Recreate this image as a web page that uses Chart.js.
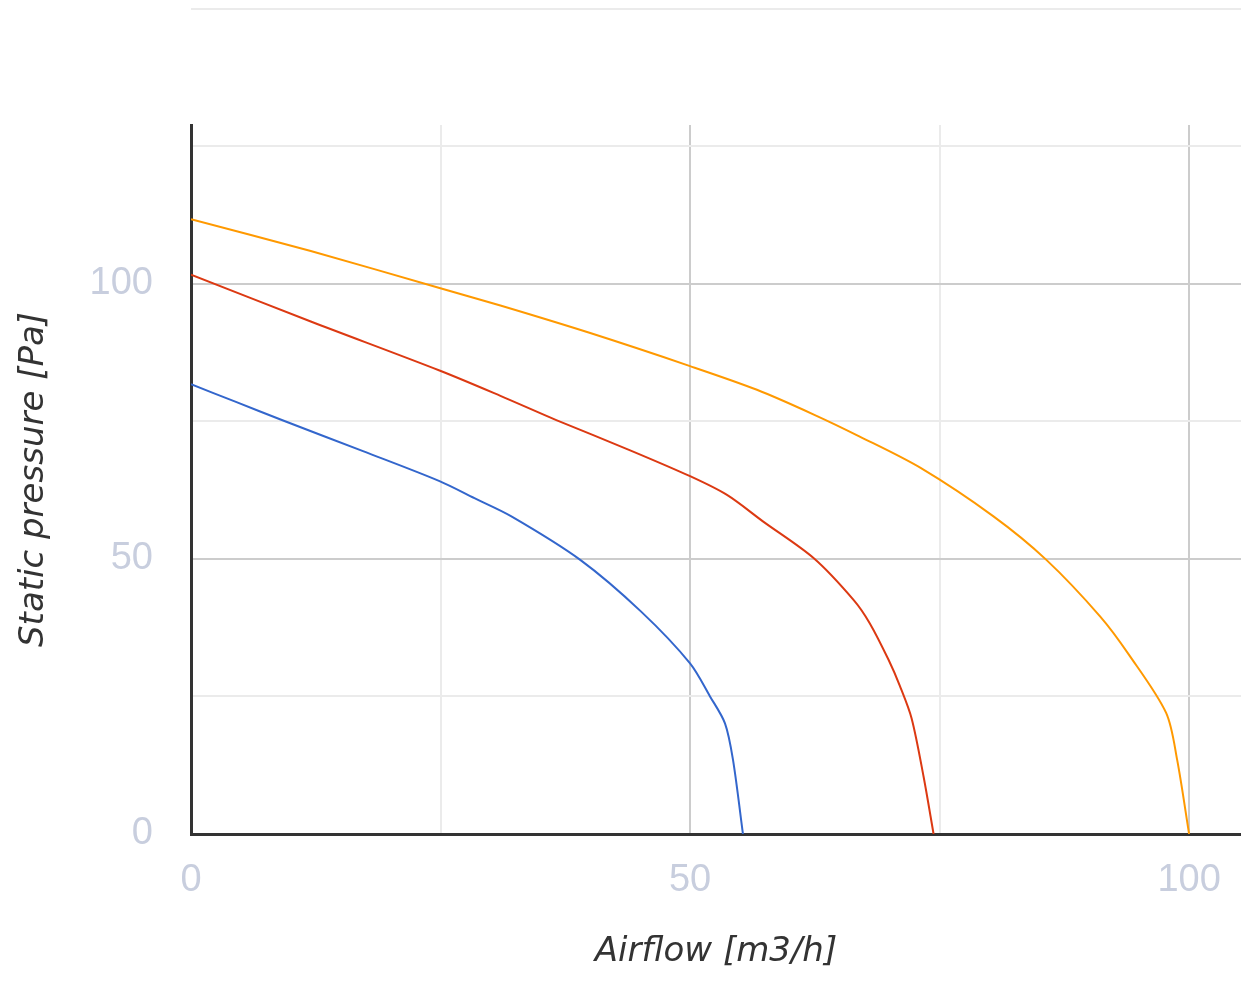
<!DOCTYPE html>
<html>
<head>
<meta charset="utf-8">
<script src="https://cdn.jsdelivr.net/npm/chart.js@4"></script>
<style>
  html, body { margin: 0; padding: 0; background: #ffffff; overflow: hidden; }
  #wrap { width: 1241px; height: 981px; position: relative; }
</style>
</head>
<body>
<div id="wrap"><canvas id="c" width="1241" height="981"></canvas></div>
<script>
// ---- data ----
const blueAirflow     = [0, 4.5, 9.1, 17.3, 24.9, 28.4, 32.1, 39.0, 45.1, 50.0, 52.0, 53.5, 54.3, 55.3];
const bluePressure    = [81.7, 78.5, 75.2, 69.5, 64.1, 61.0, 57.7, 49.8, 40.4, 31.0, 25.0, 20.1, 13.5, 0];

const redAirflow      = [0, 12, 24.9, 31, 36.6, 44, 50, 53.7, 57.3, 62.4, 66.4, 68.0, 69.9, 71.0, 72.2, 73.4, 74.4];
const redPressure     = [101.6, 93.1, 84.2, 79.6, 75.2, 69.7, 65.0, 61.6, 56.8, 50.1, 42.5, 38.3, 31.6, 27.0, 21.0, 10.4, 0];

const orangeAirflow   = [0, 12, 24.9, 31, 40, 50, 56.7, 62.4, 67, 73.1, 80.4, 85.7, 91.1, 94.0, 97.7, 98.8, 100];
const orangePressure  = [111.7, 105.9, 99.2, 96.0, 91.0, 85.0, 80.7, 76.2, 72.2, 66.5, 57.7, 49.8, 39.5, 32.5, 22.0, 13.5, 0];

const xGridValues   = [0, 25, 50, 75, 100];
const xTickLabels   = { 0: '0', 50: '50', 100: '100' };
const yGridValues   = [0, 25, 50, 75, 100, 125];
const yTickLabels   = { 0: '0', 50: '50', 100: '100' };
const xMin = 0, xMax = 105.2;
const yMin = 0, yMax = 128.8;
const topLineValue = 150;

const xTitle = 'Airflow [m3/h]';
const yTitle = 'Static pressure [Pa]';

function pts(xs, ys) { return xs.map((x, i) => ({ x: x, y: ys[i] })); }

const gridColor = (ctx) => {
  const v = ctx.tick ? ctx.tick.value : null;
  if (v === null || v === 0) return 'rgba(0,0,0,0)';
  return (v % 50 === 0) ? '#cccccc' : '#ebebeb';
};

const topLinePlugin = {
  id: 'topLine',
  beforeDatasetsDraw(chart) {
    const { ctx, chartArea, scales } = chart;
    const y = Math.round(scales.y.getPixelForValue(topLineValue)) + 1;
    ctx.save();
    ctx.strokeStyle = '#ebebeb';
    ctx.lineWidth = 2;
    ctx.beginPath();
    ctx.moveTo(chartArea.left, y);
    ctx.lineTo(chartArea.right, y);
    ctx.stroke();
    ctx.restore();
  }
};

const tickFont = { family: "'Liberation Sans', Arial, sans-serif", size: 38 };
const titleFont = { family: "'DejaVu Sans', sans-serif", size: 34, style: 'italic' };

new Chart(document.getElementById('c'), {
  type: 'line',
  data: {
    datasets: [
      { label: 'Blue', data: pts(blueAirflow, bluePressure), borderColor: '#3366cc' },
      { label: 'Red', data: pts(redAirflow, redPressure), borderColor: '#dc3912' },
      { label: 'Orange', data: pts(orangeAirflow, orangePressure), borderColor: '#ff9900' }
    ]
  },
  options: {
    responsive: false,
    animation: false,
    devicePixelRatio: 1,
    layout: { padding: { top: 125, left: 0, right: 0, bottom: 0 } },
    plugins: { legend: { display: false }, tooltip: { enabled: false } },
    elements: {
      point: { radius: 0 },
      line: { borderWidth: 2, tension: 0.3, fill: false }
    },
    scales: {
      x: {
        type: 'linear', min: xMin, max: xMax,
        afterBuildTicks: (s) => { s.ticks = xGridValues.map(v => ({ value: v })); },
        afterFit: (s) => { s.height = 147; s.paddingLeft = 0; s.paddingRight = 0; },
        grid: { color: gridColor, lineWidth: 2, drawTicks: false },
        border: { color: '#333333', width: 3 },
        ticks: {
          autoSkip: false, maxRotation: 0, padding: 24,
          color: '#c8cede', font: tickFont,
          callback: (v) => (xTickLabels[v] !== undefined ? xTickLabels[v] : '')
        },
        title: { display: true, text: xTitle, color: '#333333', font: titleFont, padding: { top: 0, bottom: 8 } }
      },
      y: {
        type: 'linear', min: yMin, max: yMax,
        afterBuildTicks: (s) => { s.ticks = yGridValues.map(v => ({ value: v })); },
        afterFit: (s) => { s.width = 191; s.paddingTop = 0; s.paddingBottom = 0; },
        grid: { color: gridColor, lineWidth: 2, drawTicks: false },
        border: { color: '#333333', width: 3 },
        ticks: {
          autoSkip: false, padding: 38,
          color: '#c8cede', font: tickFont,
          callback: (v) => (yTickLabels[v] !== undefined ? yTickLabels[v] : '')
        },
        title: { display: true, text: yTitle, color: '#333333', font: titleFont, padding: { top: 14, bottom: 0 } }
      }
    }
  },
  plugins: [topLinePlugin]
});
</script>
</body>
</html>
